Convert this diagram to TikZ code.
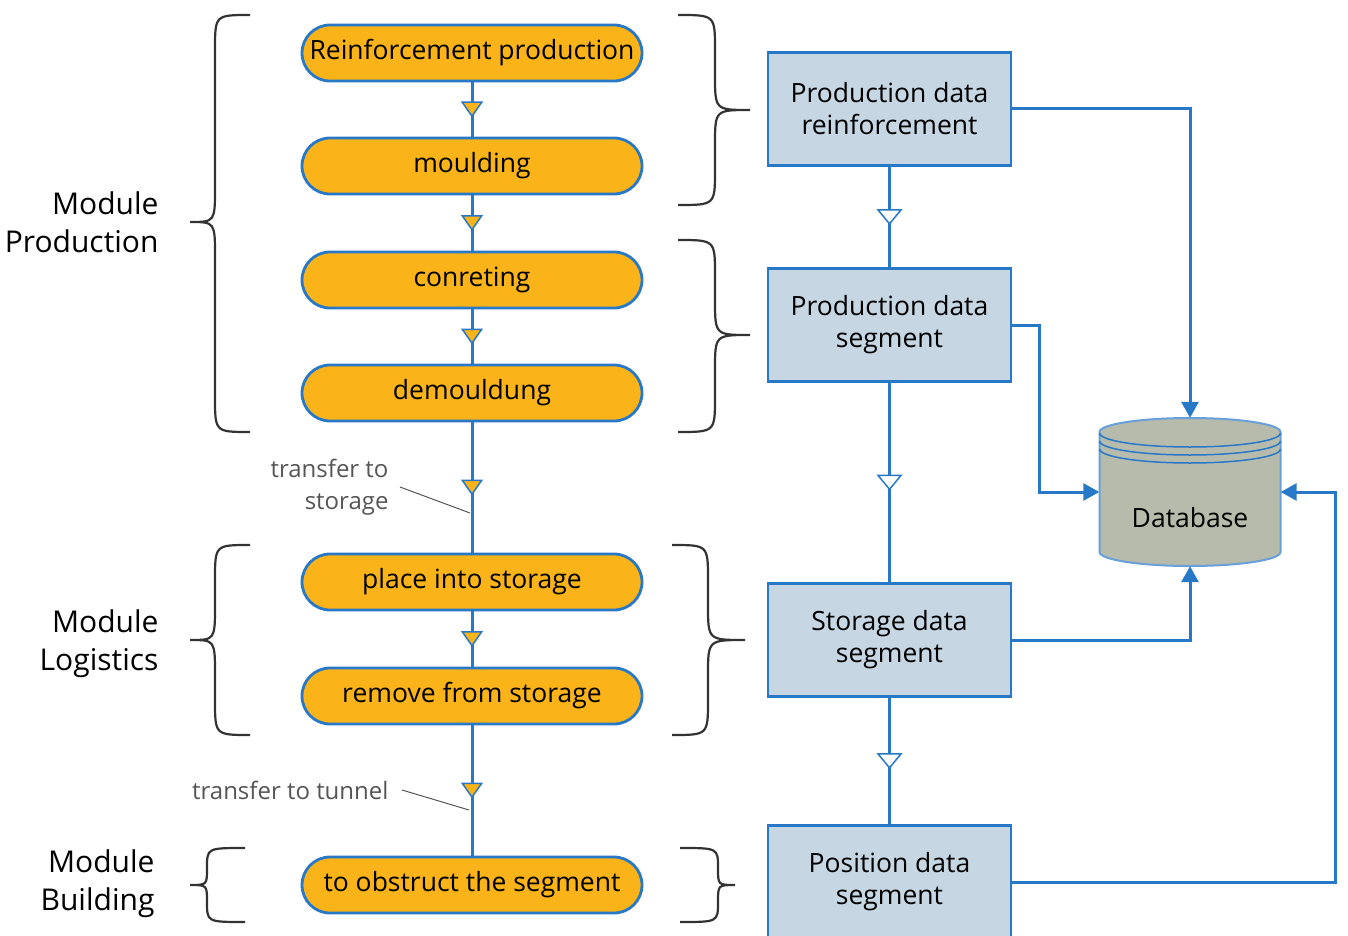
\documentclass[tikz,border=0pt]{standalone}
\usepackage{fontspec}
\setmainfont{Open Sans}
\usetikzlibrary{arrows.meta,decorations.markings}
\definecolor{pillorange}{RGB}{250,180,25}
\definecolor{lineblue}{RGB}{40,120,200}
\definecolor{boxfill}{RGB}{198,214,226}
\definecolor{dbfill}{RGB}{183,187,172}
\definecolor{labelgray}{RGB}{85,85,85}
\begin{document}
\begin{tikzpicture}[x=1pt, y=-1pt,
    process/.style={draw=lineblue, line width=2.8pt, fill=pillorange, rounded corners=28pt,
      minimum width=340pt, minimum height=56pt, font=\fontsize{26.5}{30}\selectfont},
    datastep/.style={draw=lineblue, line width=2.8pt, fill=boxfill, minimum width=243pt,
      minimum height=113pt, align=center, font=\fontsize{26.5}{32}\selectfont},
    flow/.style={draw=lineblue, line width=3pt, postaction={decorate},
      decoration={markings, mark=at position 0.5 with
        {\pgftransformxshift{8pt}\arrow{Triangle[length=16pt, width=22pt, fill=pillorange, line width=1.5pt]}}}},
    dataflow/.style={draw=lineblue, line width=3pt, postaction={decorate},
      decoration={markings, mark=at position 0.5 with
        {\pgftransformxshift{8pt}\arrow{Triangle[length=16pt, width=26pt, fill=white, line width=1.5pt]}}}},
    dblink/.style={draw=lineblue, line width=3pt, -{Triangle[length=16pt, width=17pt]}},
    modbrace/.style={draw=black!80, line width=2.2pt},
    modlabel/.style={align=right, anchor=east, font=\fontsize{30}{38}\selectfont},
    note/.style={align=right, anchor=east, text=labelgray, font=\fontsize{24}{32}\selectfont},
    leader/.style={draw=labelgray, line width=1pt}]
  \useasboundingbox (0,0) rectangle (1348,936);

  % process chain
  \node[process] (rp) at (472,53) {Reinforcement production};
  \node[process] (mo) at (472,166) {moulding};
  \node[process] (co) at (472,280) {conreting};
  \node[process] (de) at (472,393) {demouldung};
  \node[process] (ps) at (472,582) {place into storage};
  \node[process] (rs) at (472,696) {remove from storage};
  \node[process] (ob) at (472,885) {to obstruct the segment};

  \draw[flow] (rp) -- (mo);
  \draw[flow] (mo) -- (co);
  \draw[flow] (co) -- (de);
  \draw[flow] (de) -- (ps);
  \draw[flow] (ps) -- (rs);
  \draw[flow] (rs) -- (ob);

  % data boxes
  \node[datastep] (pdr) at (889.5,109) {Production data\\reinforcement};
  \node[datastep] (pds) at (889.5,325) {Production data\\segment};
  \node[datastep] (sds) at (889.5,640) {Storage data\\segment};
  \node[datastep] (pos) at (889.5,882) {Position data\\segment};

  \draw[dataflow] (pdr) -- (pds);
  \draw[dataflow] (pds) -- (sds);
  \draw[dataflow] (sds) -- (pos);

  % database
  \node[minimum width=181pt, minimum height=148pt, inner sep=0pt] (db) at (1190,492) {};
  \draw[fill=dbfill, draw=lineblue!70, line width=2pt] (1099.5,432) -- (1099.5,552)
    arc[start angle=180, end angle=360, x radius=90.5pt, y radius=14pt] -- (1280.5,432)
    arc[start angle=0, end angle=180, x radius=90.5pt, y radius=14pt] -- cycle;
  \draw[lineblue, line width=1.5pt] (1099.5,433) arc[start angle=180, end angle=360, x radius=90.5pt, y radius=14pt];
  \draw[lineblue, line width=1.5pt] (1099.5,441) arc[start angle=180, end angle=360, x radius=90.5pt, y radius=14pt];
  \draw[lineblue, line width=1.5pt] (1099.5,449) arc[start angle=180, end angle=360, x radius=90.5pt, y radius=14pt];
  \node[font=\fontsize{26.5}{30}\selectfont] (dbtext) at (1190,518) {Database};

  \draw[dblink] (pdr.east) -| (db.north);
  \draw[dblink] (pds.east) -| ([xshift=-60pt]db.west) -- (db.west);
  \draw[dblink] (sds.east) -| (db.south);
  \draw[dblink] (pos.east) -| ([xshift=55pt]db.east) -- (db.east);

  % braces
  \draw[modbrace] (250,15) .. controls (215,15) .. (215,50) -- (215,187)
    .. controls (215,222) .. (190,222) .. controls (215,222) .. (215,257)
    -- (215,397) .. controls (215,432) .. (250,432);
  \draw[modbrace] (678,15) .. controls (715,15) .. (715,50) -- (715,75)
    .. controls (715,110) .. (750,110) .. controls (715,110) .. (715,145)
    -- (715,170) .. controls (715,205) .. (678,205);
  \draw[modbrace] (678,240) .. controls (715,240) .. (715,275) -- (715,300)
    .. controls (715,335) .. (750,335) .. controls (715,335) .. (715,370)
    -- (715,397) .. controls (715,432) .. (678,432);
  \draw[modbrace] (250,545) .. controls (215,545) .. (215,580) -- (215,605)
    .. controls (215,640) .. (190,640) .. controls (215,640) .. (215,675)
    -- (215,700) .. controls (215,735) .. (250,735);
  \draw[modbrace] (672,545) .. controls (708,545) .. (708,580) -- (708,605)
    .. controls (708,640) .. (745,640) .. controls (708,640) .. (708,675)
    -- (708,700) .. controls (708,735) .. (672,735);
  \draw[modbrace] (245,848) .. controls (207,848) .. (207,868)
    .. controls (207,885) .. (190,885) .. controls (207,885) .. (207,902)
    .. controls (207,922) .. (245,922);
  \draw[modbrace] (680,848) .. controls (718,848) .. (718,868)
    .. controls (718,885) .. (735,885) .. controls (718,885) .. (718,902)
    .. controls (718,922) .. (680,922);

  \node[modlabel] (mp) at (162,222) {Module\\Production};
  \node[modlabel] (ml) at (162,644) {Module\\Logistics};
  \node[modlabel] (mb) at (158,884) {Module\\Building};

  % transfer notes
  \node[note] (tts) at (392,487) {transfer to\\storage};
  \node[note] (ttt) at (392,790) {transfer to tunnel};
  \coordinate (tsend) at (470,513);
  \coordinate (ttend) at (469,810);
  \draw[leader] ([xshift=8pt]tts.east) -- (tsend);
  \draw[leader] ([xshift=10pt]ttt.east) -- (ttend);
\end{tikzpicture}
\end{document}
